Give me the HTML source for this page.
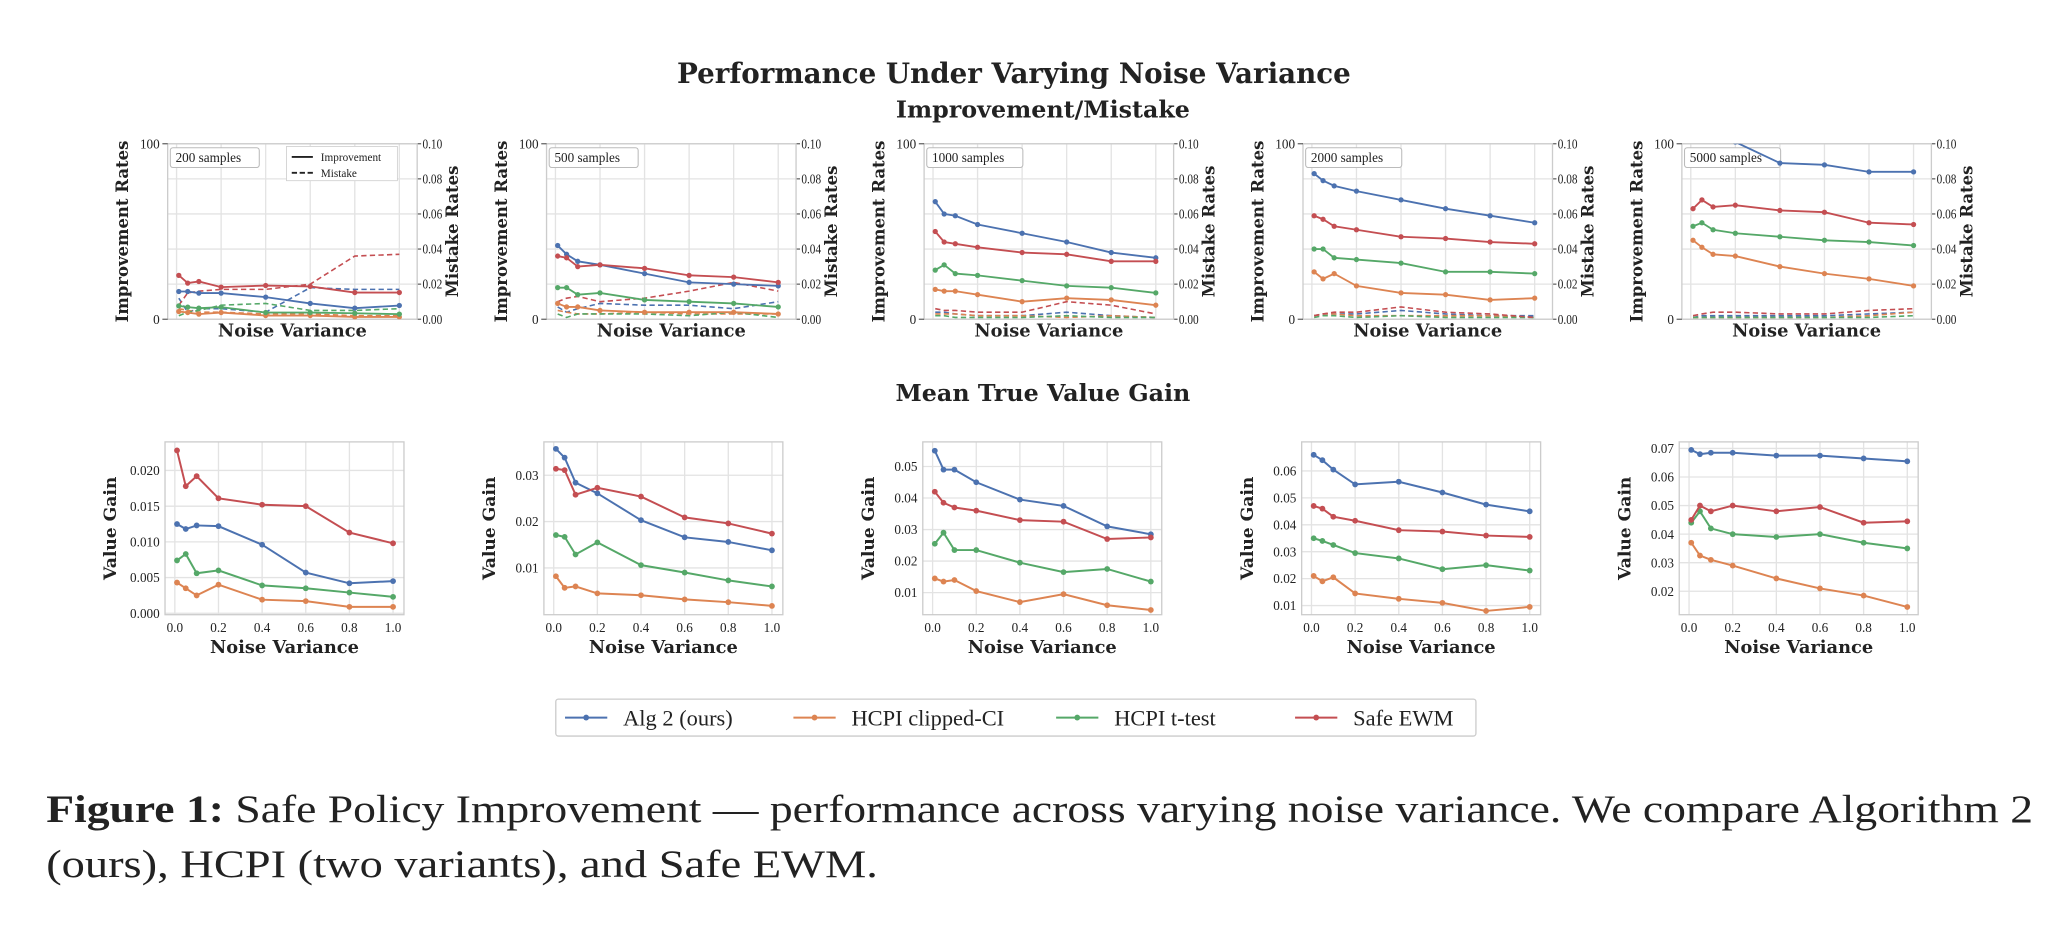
<!DOCTYPE html>
<html><head><meta charset="utf-8">
<style>
html,body{margin:0;padding:0;background:#fff;}
svg{display:block;}
text{font-family:"Liberation Serif","DejaVu Serif",serif;fill:#222;}
.b{font-family:"DejaVu Serif","Liberation Serif",serif;font-weight:bold;}
</style></head>
<body>
<svg id="fig" width="2070" height="926" viewBox="0 0 1568 702" preserveAspectRatio="none" xmlns="http://www.w3.org/2000/svg">
<text class="b" x="768" y="63" text-anchor="middle" font-size="21">Performance Under Varying Noise Variance</text>
<text class="b" x="790" y="89" text-anchor="middle" font-size="18">Improvement/Mistake</text>
<text class="b" x="790" y="304" text-anchor="middle" font-size="18">Mean True Value Gain</text>
<g id="legend"></g>
<text x="35" y="623" font-size="30" textLength="1505" lengthAdjust="spacingAndGlyphs"><tspan font-weight="bold">Figure 1:</tspan> Safe Policy Improvement — performance across varying noise variance. We compare Algorithm 2</text>
<text x="35" y="665" font-size="30" textLength="630" lengthAdjust="spacingAndGlyphs">(ours), HCPI (two variants), and Safe EWM.</text>
</svg>
<script>
const xs = [0.01,0.05,0.1,0.2,0.4,0.6,0.8,1.0];
const seriesNames = ["Alg 2 (ours)","HCPI clipped-CI","HCPI t-test","Safe EWM"];
const colors = ["#4c72b0","#dd8452","#55a868","#c44e52"];
const sampleLabels = ["200 samples","500 samples","1000 samples","2000 samples","5000 samples"];
// improvement rates (left axis 0-100), per panel: [blue, orange, green, red]
const imp200 = [[15.8,15.8,14.9,14.9,12.6,9,6.3,7.8],[4.4,3.8,2.9,3.8,2.1,2.1,1.3,1.3],[7.6,6.9,6.3,6.9,3.8,3.8,3.4,2.9],[25,20.6,21.5,18.3,19.2,18.7,15.2,15.2]];
const imp500 = [[42,37,33,31,26,21,20,19],[9,7,7,5,4,4,4,3],[18,18,14,15,11,10,9,7],[36,35,30,31,29,25,24,21]];
const imp1000 = [[67,60,59,54,49,44,38,35],[17,16,16,14,10,12,11,8],[28,31,26,25,22,19,18,15],[50,44,43,41,38,37,33,33]];
const imp2000 = [[83,79,76,73,68,63,59,55],[27,23,26,19,15,14,11,12],[40,40,35,34,32,27,27,26],[59,57,53,51,47,46,44,43]];
const imp5000 = [[104,103,102,101,89,88,84,84],[45,41,37,36,30,26,23,19],[53,55,51,49,47,45,44,42],[63,68,64,65,62,61,55,54]];
// mistake rates (right axis 0-0.1)
const mis200 = [[0.012,0.004,0.006,0.006,0.004,0.018,0.017,0.017],[0.006,0.005,0.004,0.004,0.003,0.003,0.002,0.002],[0.002,0.004,0.005,0.008,0.009,0.005,0.005,0.006],[0.008,0.015,0.016,0.017,0.017,0.020,0.036,0.037]];
const mis500 = [[0.007,0.004,0.006,0.009,0.008,0.008,0.006,0.010],[0.005,0.004,0.003,0.003,0.004,0.003,0.003,0.003],[0.003,0.001,0.003,0.003,0.003,0.002,0.004,0.001],[0.010,0.012,0.013,0.010,0.012,0.016,0.021,0.016]];
const mis1000 = [[0.004,0.004,0.003,0.002,0.002,0.004,0.002,0.001],[0.003,0.003,0.003,0.002,0.002,0.001,0.002,0.001],[0.002,0.002,0.001,0.001,0.001,0.002,0.001,0.001],[0.006,0.005,0.005,0.004,0.004,0.010,0.008,0.003]];
const mis2000 = [[0.002,0.003,0.003,0.003,0.005,0.003,0.002,0.002],[0.002,0.003,0.003,0.002,0.002,0.002,0.002,0.001],[0.001,0.002,0.002,0.001,0.002,0.001,0.001,0.001],[0.002,0.003,0.004,0.004,0.007,0.004,0.003,0.001]];
const mis5000 = [[0.001,0.002,0.002,0.002,0.002,0.002,0.003,0.004],[0.001,0.001,0.001,0.001,0.001,0.001,0.002,0.004],[0.001,0.001,0.001,0.001,0.001,0.001,0.001,0.002],[0.002,0.003,0.004,0.004,0.003,0.003,0.005,0.006]];
// value gain
const gain200 = [[.0125,.0118,.0123,.0122,.0096,.0057,.0042,.0045],[.0043,.0035,.0025,.0040,.0019,.0017,.0009,.0009],[.0074,.0083,.0056,.0060,.0039,.0035,.0029,.0023],[.0228,.0178,.0192,.0161,.0152,.0150,.0113,.0098]];
const gain500 = [[.0357,.0338,.0284,.0261,.0203,.0166,.0156,.0138],[.0082,.0057,.0060,.0045,.0041,.0032,.0026,.0018],[.0171,.0167,.0129,.0155,.0106,.0090,.0073,.0060],[.0314,.0311,.0258,.0273,.0254,.0209,.0196,.0174]];
const gain1000 = [[.055,.049,.049,.045,.0395,.0375,.031,.0285],[.0145,.0135,.014,.0105,.007,.0095,.006,.0045],[.0255,.029,.0235,.0235,.0195,.0165,.0175,.0135],[.042,.0385,.037,.036,.033,.0325,.027,.0275]];
const gain2000 = [[.066,.064,.0605,.055,.056,.052,.0475,.045],[.021,.019,.0205,.0145,.0125,.011,.008,.0095],[.035,.034,.0325,.0295,.0275,.0235,.025,.023],[.047,.046,.043,.0415,.038,.0375,.036,.0355]];
const gain5000 = [[.0695,.068,.0685,.0685,.0675,.0675,.0665,.0655],[.037,.0325,.031,.029,.0245,.021,.0185,.0145],[.044,.048,.042,.040,.039,.040,.037,.035],[.045,.050,.048,.050,.048,.0495,.044,.0445]];
const gainTicks = [["0.000","0.005","0.010","0.015","0.020"],["0.01","0.02","0.03"],["0.01","0.02","0.03","0.04","0.05"],["0.01","0.02","0.03","0.04","0.05","0.06"],["0.02","0.03","0.04","0.05","0.06","0.07"]];
const gainDomains = [[-0.0002,0.024],[-0.0001,0.0372],[0.003,0.0578],[0.0066,0.0708],[0.0118,0.0723]];
const xTickLabels = ["0.0","0.2","0.4","0.6","0.8","1.0"];
const mistakeTicks = ["0.00","0.02","0.04","0.06","0.08","0.10"];

const imps=[imp200,imp500,imp1000,imp2000,imp5000];
const miss=[mis200,mis500,mis1000,mis2000,mis5000];
const gains=[gain200,gain500,gain1000,gain2000,gain5000];
const NS="http://www.w3.org/2000/svg";
const svg=document.getElementById('fig');
function mk(tag,attrs,parent){const e=document.createElementNS(NS,tag);for(const k in attrs)e.setAttribute(k,attrs[k]);(parent||svg).appendChild(e);return e;}
function lin(d0,d1,r0,r1){return v=>r0+(v-d0)/(d1-d0)*(r1-r0);}
const topX=[127,414,700,987,1274], topW=189, topY0=109, topY1=242;
const botX=[125,412,699,986,1272], botW=181, botY0=335, botY1=466;
let cid=0;
for(let p=0;p<5;p++){
  const g=mk('g',{});
  
  
  const L=topX[p],R=L+topW;
  const sx=lin(-0.04,1.08,L,R), syL=lin(0,100,topY1,topY0), syR=lin(0,0.1,topY1,topY0);
  cid++;mk('clipPath',{id:'c'+cid},g);mk('rect',{x:L,y:topY0,width:topW,height:topY1-topY0},g.lastChild);
  const cl='url(#c'+cid+')';
  for(let i=0;i<mistakeTicks.length;i++){const y=syR(+mistakeTicks[i]);mk('line',{x1:L,x2:R,y1:y,y2:y,stroke:'#e3e3e3','stroke-width':1},g);
    mk('line',{x1:R,x2:R+3,y1:y,y2:y,stroke:'#444','stroke-width':0.8},g);
    const t=mk('text',{x:R+4,y:y+3.5,'font-size':10,textLength:15,lengthAdjust:'spacingAndGlyphs'},g);t.textContent=mistakeTicks[i];}
  for(let i=0;i<xTickLabels.length;i++){const x=sx(+xTickLabels[i]);mk('line',{x1:x,x2:x,y1:topY0,y2:topY1,stroke:'#e3e3e3','stroke-width':1},g);}
  mk('rect',{x:L,y:topY0,width:topW,height:topY1-topY0,fill:'none',stroke:'#ccc','stroke-width':1},g);
  [[0,'0'],[100,'100']].forEach(([v,s])=>{const y=syL(v);mk('line',{x1:L-4,x2:L,y1:y,y2:y,stroke:'#444','stroke-width':0.8},g);const t=mk('text',{x:L-6,y:y+3.5,'font-size':10,'text-anchor':'end'},g);t.textContent=s;});
  let t=mk('text',{class:'b',x:0,y:0,'font-size':12.5,'text-anchor':'middle',transform:`translate(${L-30},${(topY0+topY1)/2}) rotate(-90)`},g);t.textContent='Improvement Rates';
  t=mk('text',{class:'b',x:0,y:0,'font-size':12.5,'text-anchor':'middle',transform:`translate(${R+31},${(topY0+topY1)/2}) rotate(-90)`},g);t.textContent='Mistake Rates';
  t=mk('text',{class:'b',x:(L+R)/2,y:topY1+13,'font-size':13.5,'text-anchor':'middle'},g);t.textContent='Noise Variance';
  mk('rect',{x:L+2,y:topY0+3,width:sampleLabels[p].length*5.4+8,height:15,fill:'#fff',stroke:'#bbb','stroke-width':0.8,rx:2},g);
  t=mk('text',{x:L+6,y:topY0+14,'font-size':10},g);t.textContent=sampleLabels[p];
  const dg=mk('g',{'clip-path':cl},g);
  for(let s=0;s<4;s++){
    const mp=miss[p][s].map((v,i)=>sx(xs[i])+','+syR(v)).join(' ');
    const ml=mk('polyline',{points:mp,fill:'none',stroke:colors[s],'stroke-width':1.2,'stroke-dasharray':'4,2.5'},dg);
    
    
  }
  for(let s=0;s<4;s++){
    const ip=imps[p][s].map((v,i)=>sx(xs[i])+','+syL(v)).join(' ');
    const il=mk('polyline',{points:ip,fill:'none',stroke:colors[s],'stroke-width':1.4},dg);
    
    
    imps[p][s].forEach((v,i)=>{const c=mk('circle',{cx:sx(xs[i]),cy:syL(v),r:2,fill:colors[s]},dg);
      
      });
  }
  if(p===0){
    const lg=mk('g',{},g);
    
    
    mk('rect',{x:217,y:111,width:84,height:26,fill:'#fff',stroke:'#ccc','stroke-width':0.6},lg);
    mk('line',{x1:221,x2:237,y1:119,y2:119,stroke:'#222','stroke-width':1.4},lg);
    mk('line',{x1:221,x2:237,y1:131,y2:131,stroke:'#222','stroke-width':1.4,'stroke-dasharray':'4,2'},lg);
    let a=mk('text',{x:243,y:122,'font-size':8.5},lg);a.textContent='Improvement';
    a=mk('text',{x:243,y:134,'font-size':8.5},lg);a.textContent='Mistake';
  }
  const h=mk('g',{});
  
  
  const BL=botX[p],BR=BL+botW;
  const bx=lin(-0.045,1.05,BL,BR), by=lin(gainDomains[p][0],gainDomains[p][1],botY1,botY0);
  gainTicks[p].forEach(s=>{const y=by(+s);mk('line',{x1:BL,x2:BR,y1:y,y2:y,stroke:'#e3e3e3','stroke-width':1},h);
    const tt=mk('text',{x:BL-4,y:y+3.5,'font-size':10,'text-anchor':'end'},h);tt.textContent=s;});
  xTickLabels.forEach(s=>{const x=bx(+s);mk('line',{x1:x,x2:x,y1:botY0,y2:botY1,stroke:'#e3e3e3','stroke-width':1},h);
    const tt=mk('text',{x:x,y:botY1+13,'font-size':10,'text-anchor':'middle'},h);tt.textContent=s;});
  mk('rect',{x:BL,y:botY0,width:botW,height:botY1-botY0,fill:'none',stroke:'#ccc','stroke-width':1},h);
  t=mk('text',{class:'b',x:(BL+BR)/2,y:botY1+29,'font-size':13.5,'text-anchor':'middle'},h);t.textContent='Noise Variance';
  t=mk('text',{class:'b',x:0,y:0,'font-size':13,'text-anchor':'middle',transform:`translate(${BL-37},${(botY0+botY1)/2}) rotate(-90)`},h);t.textContent='Value Gain';
  for(let s=0;s<4;s++){
    const gp=gains[p][s].map((v,i)=>bx(xs[i])+','+by(v)).join(' ');
    const gl=mk('polyline',{points:gp,fill:'none',stroke:colors[s],'stroke-width':1.5},h);
    
    
    gains[p][s].forEach((v,i)=>{const c=mk('circle',{cx:bx(xs[i]),cy:by(v),r:2.2,fill:colors[s]},h);
      
      });
  }
}
const lgd=document.getElementById('legend');
mk('rect',{x:421,y:530,width:697,height:28,fill:'#fff',stroke:'#ccc','stroke-width':1,rx:2},lgd);
const lx=[428,601,800,981];
for(let s=0;s<4;s++){
  const e=mk('g',{},lgd);
  
  
  mk('line',{x1:lx[s],x2:lx[s]+32,y1:544,y2:544,stroke:colors[s],'stroke-width':1.5},e);
  mk('circle',{cx:lx[s]+16,cy:544,r:2.2,fill:colors[s]},e);
  const tt=mk('text',{x:lx[s]+44,y:550,'font-size':17},e);tt.textContent=seriesNames[s];
}
</script>
</body></html>
